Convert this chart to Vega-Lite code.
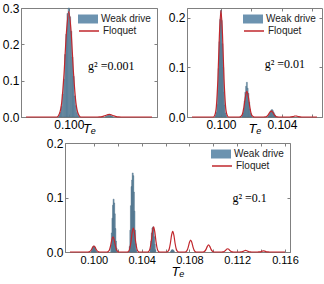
{
 "$schema": "https://vega.github.io/schema/vega-lite/v6.json",
 "padding": {"left": 1, "top": 1, "right": 0, "bottom": 0},
 "spacing": 0,
 "config": {
  "view": {"stroke": "#808080", "strokeWidth": 1},
  "font": "Liberation Sans",
  "axis": {"labelFont": "Liberation Sans", "labelFontSize": 12, "labelColor": "#000", "domainColor": "#808080", "tickColor": "#808080", "tickSize": -3, "labelPadding": 5, "grid": false, "titleFont": "Liberation Sans", "titleFontSize": 13, "titleFontStyle": "italic", "titleFontWeight": "normal", "titleColor": "#000"},
  "legend": {"title": null, "orient": "top-right", "offset": 6, "padding": 0, "symbolSize": 100, "labelFont": "Liberation Sans", "labelFontSize": 10, "labelColor": "#222", "labelOffset": 8, "rowPadding": 1, "layout": {"top-right": {"direction": "vertical", "margin": 1}}}
 },
 "datasets": {
  "lineA": [{"t":0.0982,"v":0},{"t":0.0995,"v":0},{"t":0.0996,"v":0.008},{"t":0.0997,"v":0.039},{"t":0.0998,"v":0.119},{"t":0.0999,"v":0.232},{"t":0.1,"v":0.29},{"t":0.1001,"v":0.232},{"t":0.1002,"v":0.119},{"t":0.1003,"v":0.039},{"t":0.1004,"v":0.008},{"t":0.1005,"v":0},{"t":0.1012,"v":0},{"t":0.1013,"v":0.0002},{"t":0.1014,"v":0.001},{"t":0.1015,"v":0.003},{"t":0.1016,"v":0.0056},{"t":0.1017,"v":0.007},{"t":0.1018,"v":0.0056},{"t":0.1019,"v":0.003},{"t":0.102,"v":0.001},{"t":0.1021,"v":0.0002},{"t":0.1022,"v":0},{"t":0.1035,"v":0}],
  "barsA": [{"t":0.0996,"v":0.005},{"t":0.09965,"v":0.013},{"t":0.0997,"v":0.029},{"t":0.09975,"v":0.063},{"t":0.0998,"v":0.104},{"t":0.09985,"v":0.172},{"t":0.0999,"v":0.228},{"t":0.09995,"v":0.285},{"t":0.1,"v":0.3},{"t":0.10005,"v":0.276},{"t":0.1001,"v":0.236},{"t":0.10015,"v":0.165},{"t":0.1002,"v":0.112},{"t":0.10025,"v":0.058},{"t":0.1003,"v":0.031},{"t":0.10035,"v":0.012},{"t":0.1004,"v":0.004},{"t":0.10155,"v":0.001},{"t":0.1016,"v":0.003},{"t":0.10165,"v":0.0045},{"t":0.1017,"v":0.005},{"t":0.10175,"v":0.0045},{"t":0.1018,"v":0.003},{"t":0.10185,"v":0.001}],
  "lineB": [{"t":0.0981,"v":0},{"t":0.0995,"v":0},{"t":0.0996,"v":0.004},{"t":0.0997,"v":0.022},{"t":0.0998,"v":0.077},{"t":0.0999,"v":0.167},{"t":0.1,"v":0.215},{"t":0.1001,"v":0.167},{"t":0.1002,"v":0.077},{"t":0.1003,"v":0.022},{"t":0.1004,"v":0.004},{"t":0.1005,"v":0},{"t":0.1012,"v":0},{"t":0.1013,"v":0.001},{"t":0.1014,"v":0.005},{"t":0.1015,"v":0.019},{"t":0.1016,"v":0.04},{"t":0.1017,"v":0.052},{"t":0.1018,"v":0.04},{"t":0.1019,"v":0.019},{"t":0.102,"v":0.005},{"t":0.1021,"v":0.001},{"t":0.1022,"v":0},{"t":0.1028,"v":0},{"t":0.1029,"v":0.0002},{"t":0.103,"v":0.0012},{"t":0.1031,"v":0.0043},{"t":0.1032,"v":0.0093},{"t":0.1033,"v":0.012},{"t":0.1034,"v":0.0093},{"t":0.1035,"v":0.0043},{"t":0.1036,"v":0.0012},{"t":0.1037,"v":0.0002},{"t":0.1038,"v":0},{"t":0.1045,"v":0},{"t":0.1047,"v":0.0007},{"t":0.1048,"v":0.0015},{"t":0.1049,"v":0.002},{"t":0.105,"v":0.0015},{"t":0.1051,"v":0.0007},{"t":0.1053,"v":0},{"t":0.1063,"v":0}],
  "barsB": [{"t":0.09965,"v":0.003},{"t":0.0997,"v":0.009},{"t":0.09975,"v":0.025},{"t":0.0998,"v":0.054},{"t":0.09985,"v":0.098},{"t":0.0999,"v":0.152},{"t":0.09995,"v":0.197},{"t":0.1,"v":0.215},{"t":0.10005,"v":0.195},{"t":0.1001,"v":0.148},{"t":0.10015,"v":0.1},{"t":0.1002,"v":0.05},{"t":0.10025,"v":0.024},{"t":0.1003,"v":0.008},{"t":0.10035,"v":0.003},{"t":0.1014,"v":0.003},{"t":0.10145,"v":0.008},{"t":0.1015,"v":0.017},{"t":0.10155,"v":0.032},{"t":0.1016,"v":0.05},{"t":0.10165,"v":0.062},{"t":0.1017,"v":0.07},{"t":0.10175,"v":0.058},{"t":0.1018,"v":0.048},{"t":0.10185,"v":0.03},{"t":0.1019,"v":0.016},{"t":0.10195,"v":0.007},{"t":0.102,"v":0.003},{"t":0.1031,"v":0.0017},{"t":0.10315,"v":0.0037},{"t":0.1032,"v":0.0069},{"t":0.10325,"v":0.0106},{"t":0.1033,"v":0.0138},{"t":0.10335,"v":0.015},{"t":0.1034,"v":0.013},{"t":0.10345,"v":0.01},{"t":0.1035,"v":0.0065},{"t":0.10355,"v":0.0035},{"t":0.1036,"v":0.0015}],
  "lineC": [{"t":0.098,"v":0},{"t":0.0995,"v":0},{"t":0.0996,"v":0.0003},{"t":0.0997,"v":0.0015},{"t":0.0998,"v":0.0045},{"t":0.0999,"v":0.0088},{"t":0.1,"v":0.011},{"t":0.1001,"v":0.0088},{"t":0.1002,"v":0.0045},{"t":0.1003,"v":0.0015},{"t":0.1004,"v":0.0003},{"t":0.1005,"v":0},{"t":0.1011,"v":0},{"t":0.1012,"v":0.0008},{"t":0.1013,"v":0.0038},{"t":0.1014,"v":0.0115},{"t":0.1015,"v":0.0224},{"t":0.1016,"v":0.028},{"t":0.1017,"v":0.0224},{"t":0.1018,"v":0.0115},{"t":0.1019,"v":0.0038},{"t":0.102,"v":0.0008},{"t":0.1021,"v":0},{"t":0.1028,"v":0},{"t":0.1029,"v":0.0012},{"t":0.103,"v":0.0059},{"t":0.1031,"v":0.018},{"t":0.1032,"v":0.0352},{"t":0.1033,"v":0.044},{"t":0.1034,"v":0.0352},{"t":0.1035,"v":0.018},{"t":0.1036,"v":0.0059},{"t":0.1037,"v":0.0012},{"t":0.1038,"v":0},{"t":0.1045,"v":0},{"t":0.1046,"v":0.0013},{"t":0.1047,"v":0.0062},{"t":0.1048,"v":0.0189},{"t":0.1049,"v":0.0368},{"t":0.105,"v":0.046},{"t":0.1051,"v":0.0368},{"t":0.1052,"v":0.0189},{"t":0.1053,"v":0.0062},{"t":0.1054,"v":0.0013},{"t":0.1055,"v":0},{"t":0.1061,"v":0},{"t":0.1062,"v":0.0011},{"t":0.1063,"v":0.0051},{"t":0.1064,"v":0.0156},{"t":0.1065,"v":0.0304},{"t":0.1066,"v":0.038},{"t":0.1067,"v":0.0304},{"t":0.1068,"v":0.0156},{"t":0.1069,"v":0.0051},{"t":0.107,"v":0.0011},{"t":0.1071,"v":0},{"t":0.1076,"v":0},{"t":0.1077,"v":0.0006},{"t":0.1078,"v":0.003},{"t":0.1079,"v":0.009},{"t":0.108,"v":0.0176},{"t":0.1081,"v":0.022},{"t":0.1082,"v":0.0176},{"t":0.1083,"v":0.009},{"t":0.1084,"v":0.003},{"t":0.1085,"v":0.0006},{"t":0.1086,"v":0},{"t":0.1091,"v":0},{"t":0.1092,"v":0.0004},{"t":0.1093,"v":0.0018},{"t":0.1094,"v":0.0053},{"t":0.1095,"v":0.0104},{"t":0.1096,"v":0.013},{"t":0.1097,"v":0.0104},{"t":0.1098,"v":0.0053},{"t":0.1099,"v":0.0018},{"t":0.11,"v":0.0004},{"t":0.1101,"v":0},{"t":0.1107,"v":0},{"t":0.1108,"v":0.0002},{"t":0.1109,"v":0.0008},{"t":0.111,"v":0.0025},{"t":0.1111,"v":0.0048},{"t":0.1112,"v":0.006},{"t":0.1113,"v":0.0048},{"t":0.1114,"v":0.0025},{"t":0.1115,"v":0.0008},{"t":0.1116,"v":0.0002},{"t":0.1117,"v":0},{"t":0.1122,"v":0},{"t":0.1123,"v":0.0001},{"t":0.1124,"v":0.0004},{"t":0.1125,"v":0.0012},{"t":0.1126,"v":0.0024},{"t":0.1127,"v":0.003},{"t":0.1128,"v":0.0024},{"t":0.1129,"v":0.0012},{"t":0.113,"v":0.0004},{"t":0.1131,"v":0.0001},{"t":0.1132,"v":0},{"t":0.1137,"v":0},{"t":0.1138,"v":0.0001},{"t":0.1139,"v":0.0003},{"t":0.114,"v":0.0008},{"t":0.1141,"v":0.0016},{"t":0.1142,"v":0.002},{"t":0.1143,"v":0.0016},{"t":0.1144,"v":0.0008},{"t":0.1145,"v":0.0003},{"t":0.1146,"v":0.0001},{"t":0.1147,"v":0},{"t":0.116,"v":0}],
  "barsC": [{"t":0.0998,"v":0.0015},{"t":0.09985,"v":0.0035},{"t":0.0999,"v":0.0067},{"t":0.09995,"v":0.0097},{"t":0.1,"v":0.011},{"t":0.10005,"v":0.0097},{"t":0.1001,"v":0.0067},{"t":0.10015,"v":0.0035},{"t":0.1002,"v":0.0015},{"t":0.10145,"v":0.012},{"t":0.1015,"v":0.035},{"t":0.10155,"v":0.062},{"t":0.1016,"v":0.086},{"t":0.10165,"v":0.097},{"t":0.1017,"v":0.09},{"t":0.10175,"v":0.07},{"t":0.1018,"v":0.043},{"t":0.10185,"v":0.02},{"t":0.1019,"v":0.007},{"t":0.103,"v":0.01},{"t":0.10305,"v":0.04},{"t":0.1031,"v":0.085},{"t":0.10315,"v":0.12},{"t":0.1032,"v":0.132},{"t":0.10325,"v":0.145},{"t":0.1033,"v":0.14},{"t":0.10335,"v":0.11},{"t":0.1034,"v":0.075},{"t":0.10345,"v":0.04},{"t":0.1035,"v":0.015},{"t":0.10355,"v":0.004},{"t":0.10475,"v":0.006},{"t":0.1048,"v":0.02},{"t":0.10485,"v":0.035},{"t":0.1049,"v":0.044},{"t":0.10495,"v":0.046},{"t":0.105,"v":0.04},{"t":0.10505,"v":0.028},{"t":0.1051,"v":0.014},{"t":0.10515,"v":0.004},{"t":0.10645,"v":0.001},{"t":0.1065,"v":0.003},{"t":0.10655,"v":0.004},{"t":0.1066,"v":0.004},{"t":0.10665,"v":0.003},{"t":0.1067,"v":0.0015}]
 },
 "resolve": {"scale": {"fill": "independent", "stroke": "independent"}, "legend": {"fill": "independent", "stroke": "independent"}},
 "vconcat": [
  {
   "spacing": 9,
   "resolve": {"scale": {"fill": "independent", "stroke": "independent"}, "legend": {"fill": "independent", "stroke": "independent"}},
   "hconcat": [
    {
     "width": 136, "height": 109,
     "resolve": {"axis": {"x": "independent", "y": "independent"}},
     "layer": [
      {"data": {"name": "barsA"},
       "mark": {"type": "bar", "orient": "vertical", "size": 1.3, "stroke": "#45647a", "strokeWidth": 0.4},
       "encoding": {
        "x": {"field": "t", "type": "quantitative", "scale": {"domain": [0.0982, 0.1035], "nice": false, "zero": false}, "axis": {"values": [0.1], "format": ".3f", "title": "Tₑ", "titlePadding": -8}},
        "y": {"field": "v", "type": "quantitative", "scale": {"domain": [0, 0.3], "nice": false}, "axis": {"values": [0, 0.1, 0.2, 0.3], "format": ".1f", "title": null}},
        "fill": {"datum": "Weak drive", "type": "nominal", "scale": {"range": ["#6c93b0"]}, "legend": {"symbolType": "M-2,-0.9H2V0.9H-2Z", "symbolStrokeWidth": 0}}
       }},
      {"data": {"name": "lineA"},
       "mark": {"type": "line", "interpolate": "monotone", "strokeWidth": 1.2},
       "encoding": {
        "x": {"field": "t", "type": "quantitative", "axis": {"orient": "top", "values": [0.1], "labels": false, "title": null, "domain": false}},
        "y": {"field": "v", "type": "quantitative", "axis": {"orient": "right", "values": [0, 0.1, 0.2, 0.3], "labels": false, "title": null, "domain": false}},
        "stroke": {"datum": "Floquet", "type": "nominal", "scale": {"range": ["#c1272d"]}, "legend": {"symbolType": "M-2,0H2", "symbolStrokeWidth": 1.5}}
       }},
      {"data": {"values": [{"t": 0.10081, "v": 0.14, "s": "g² =0.001"}]},
       "mark": {"type": "text", "font": "Liberation Serif", "fontSize": 12, "align": "left", "baseline": "middle", "color": "#000"},
       "encoding": {"x": {"field": "t", "type": "quantitative", "axis": null}, "y": {"field": "v", "type": "quantitative", "axis": null}, "text": {"field": "s"}}}
     ]
    },
    {
     "width": 135, "height": 109,
     "resolve": {"axis": {"x": "independent", "y": "independent"}},
     "layer": [
      {"data": {"name": "barsB"},
       "mark": {"type": "bar", "orient": "vertical", "size": 1, "stroke": "#45647a", "strokeWidth": 0.4},
       "encoding": {
        "x": {"field": "t", "type": "quantitative", "scale": {"domain": [0.0981, 0.1063], "nice": false, "zero": false}, "axis": {"values": [0.1, 0.102, 0.104, 0.106], "format": ".3f", "labelExpr": "round(datum.value*1000) % 4 == 0 ? datum.label : ''", "title": "Tₑ", "titlePadding": -8}},
        "y": {"field": "v", "type": "quantitative", "scale": {"domain": [0, 0.22], "nice": false}, "axis": {"values": [0, 0.1, 0.2], "format": ".1f", "title": null}},
        "fill": {"datum": "Weak drive", "type": "nominal", "scale": {"range": ["#6c93b0"]}, "legend": {"symbolType": "M-2,-0.9H2V0.9H-2Z", "symbolStrokeWidth": 0}}
       }},
      {"data": {"name": "lineB"},
       "mark": {"type": "line", "interpolate": "monotone", "strokeWidth": 1.2},
       "encoding": {
        "x": {"field": "t", "type": "quantitative", "axis": {"orient": "top", "values": [0.1, 0.102, 0.104, 0.106], "labels": false, "title": null, "domain": false}},
        "y": {"field": "v", "type": "quantitative", "axis": {"orient": "right", "values": [0, 0.1, 0.2], "labels": false, "title": null, "domain": false}},
        "stroke": {"datum": "Floquet", "type": "nominal", "scale": {"range": ["#c1272d"]}, "legend": {"symbolType": "M-2,0H2", "symbolStrokeWidth": 1.5}}
       }},
      {"data": {"values": [{"t": 0.10287, "v": 0.107, "s": "g² =0.01"}]},
       "mark": {"type": "text", "font": "Liberation Serif", "fontSize": 12, "align": "left", "baseline": "middle", "color": "#000"},
       "encoding": {"x": {"field": "t", "type": "quantitative", "axis": null}, "y": {"field": "v", "type": "quantitative", "axis": null}, "text": {"field": "s"}}}
     ]
    }
   ]
  },
  {
   "spacing": 0,
   "resolve": {"scale": {"fill": "independent", "stroke": "independent"}, "legend": {"fill": "independent", "stroke": "independent"}},
   "hconcat": [
    {"width": 24, "height": 1, "view": {"stroke": null}, "data": {"values": []}, "mark": {"type": "point", "opacity": 0}, "encoding": {}},
    {
     "width": 225, "height": 109,
     "resolve": {"axis": {"x": "independent", "y": "independent"}},
     "layer": [
      {"data": {"name": "barsC"},
       "mark": {"type": "bar", "orient": "vertical", "size": 1, "stroke": "#45647a", "strokeWidth": 0.4},
       "encoding": {
        "x": {"field": "t", "type": "quantitative", "scale": {"domain": [0.098, 0.116], "nice": false, "zero": false}, "axis": {"values": [0.1, 0.102, 0.104, 0.106, 0.108, 0.11, 0.112, 0.114, 0.116], "format": ".3f", "labelExpr": "round(datum.value*1000) % 4 == 0 ? datum.label : ''", "labelFontSize": 11, "title": "Tₑ", "titlePadding": 0}},
        "y": {"field": "v", "type": "quantitative", "scale": {"domain": [0, 0.2], "nice": false}, "axis": {"values": [0, 0.1, 0.2], "format": ".1f", "title": null}},
        "fill": {"datum": "Weak drive", "type": "nominal", "scale": {"range": ["#6c93b0"]}, "legend": {"symbolType": "M-2,-0.9H2V0.9H-2Z", "symbolStrokeWidth": 0}}
       }},
      {"data": {"name": "lineC"},
       "mark": {"type": "line", "interpolate": "monotone", "strokeWidth": 1.2},
       "encoding": {
        "x": {"field": "t", "type": "quantitative", "axis": {"orient": "top", "values": [0.1, 0.102, 0.104, 0.106, 0.108, 0.11, 0.112, 0.114, 0.116], "labels": false, "title": null, "domain": false}},
        "y": {"field": "v", "type": "quantitative", "axis": {"orient": "right", "values": [0, 0.1, 0.2], "labels": false, "title": null, "domain": false}},
        "stroke": {"datum": "Floquet", "type": "nominal", "scale": {"range": ["#c1272d"]}, "legend": {"symbolType": "M-2,0H2", "symbolStrokeWidth": 1.5}}
       }},
      {"data": {"values": [{"t": 0.1116, "v": 0.099, "s": "g² =0.1"}]},
       "mark": {"type": "text", "font": "Liberation Serif", "fontSize": 12, "align": "left", "baseline": "middle", "color": "#000"},
       "encoding": {"x": {"field": "t", "type": "quantitative", "axis": null}, "y": {"field": "v", "type": "quantitative", "axis": null}, "text": {"field": "s"}}}
     ]
    }
   ]
  }
 ]
}
